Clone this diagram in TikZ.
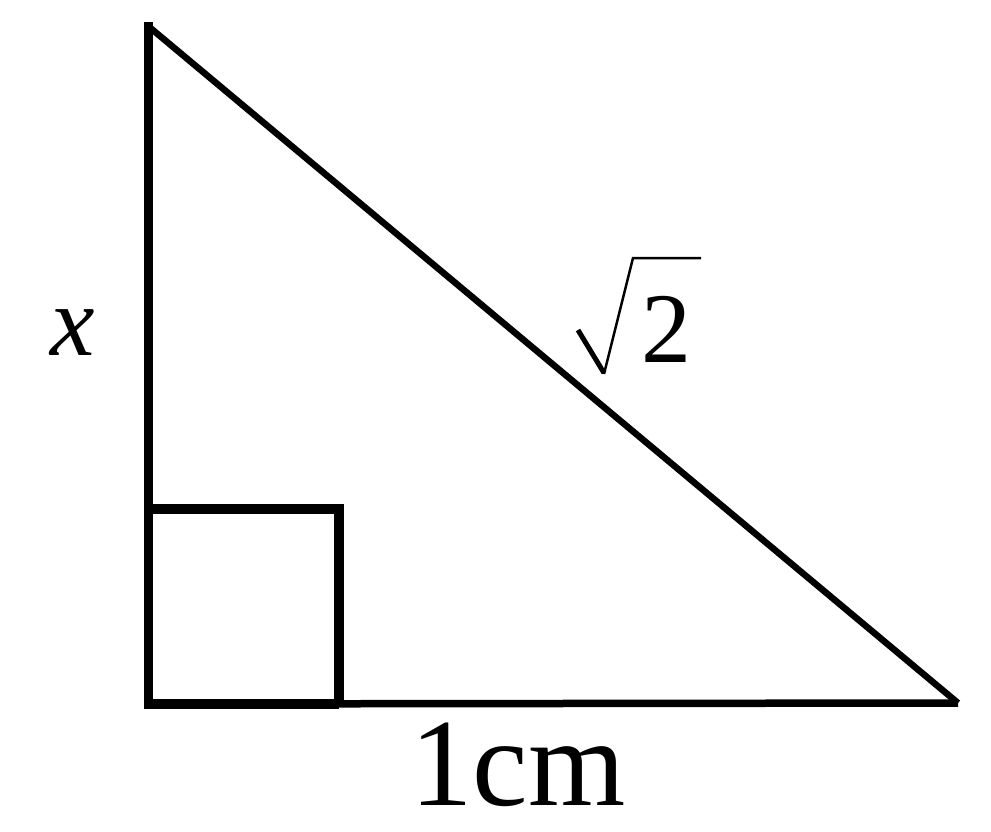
\documentclass[tikz,border=0pt]{standalone}
\usepackage{fontspec}
\setmainfont{Liberation Serif}
\usetikzlibrary{positioning}
\tikzset{
  leg/.style={line width=9pt, line cap=rect},
  hyp/.style={line width=6.5pt},
  baseline edge/.style={line width=7.5pt},
  rightmark/.style={line width=9.5pt},
  radical/.style={line width=2.5pt, line join=miter},
  biglab/.style={inner sep=0pt, font=\fontsize{125}{125}\selectfont},
}
\begin{document}
\begin{tikzpicture}[x=1pt,y=-1pt]
\useasboundingbox (0,0) rectangle (991,831);
% corners of the triangle
\coordinate (top) at (148,26);
\coordinate (corner) at (148,704);
\coordinate (right) at (958,703);
% sides
\draw[hyp] (top) -- (right);
\draw[baseline edge] (corner) -- (right);
\draw[leg] (top) -- (corner);
% right angle mark
\coordinate (sqtop) at (148,509);
\coordinate (sqright) at (339,704);
\draw[rightmark] (sqtop) -| (sqright);
\draw[rightmark] (corner) -- (sqright);
% labels
\node[inner sep=0pt, font=\fontsize{100}{100}\selectfont\itshape, anchor=base] (xlab) at (73,355) {x};
\node[biglab, anchor=base west] (unitlab) at (410,805) {1cm};
\node[inner sep=0pt, font=\fontsize{100}{100}\selectfont, anchor=base west] (two) at (641,362) {2};
% root sign over the 2
\draw[line width=5pt] (578,330) -- (604,373);
\draw[radical] (604,374) -- (633,258) -- (701,258);
\end{tikzpicture}
\end{document}
